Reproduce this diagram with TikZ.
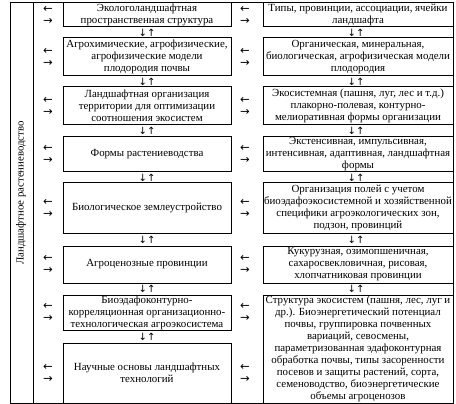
\documentclass[tikz,border=0pt]{standalone}
\usepackage{fontspec}
\setmainfont{Liberation Serif}
\newfontfamily\arrowfont{DejaVu Sans}
\begin{document}
\begin{tikzpicture}[x=1pt,y=-1pt,
  txt/.style={font=\fontsize{10.9}{12}\selectfont},
  boxl/.style={draw,line width=1pt,minimum width=168pt,inner sep=0pt,align=center,txt},
  boxr/.style={draw,line width=1pt,minimum width=190pt,inner sep=0pt,align=center,txt},
  arr/.style={inner sep=0pt,font=\arrowfont\fontsize{11.5}{11.5}\selectfont},
  ud/.style={inner sep=0pt,font=\arrowfont\fontsize{10}{10}\selectfont}]
\useasboundingbox (0,0) rectangle (456,404);
% frame
\draw[line width=1pt] (10,3) rectangle (453,403);
\draw[line width=1pt] (33,3) -- (33,403);
\node[rotate=90,font=\fontsize{10.8}{12}\selectfont] (lbl) at (21,193) {Ландшафтное растениеводство};
% left boxes
\node[boxl,minimum height=24pt] (l1) at (147,15) {Экологоландшафтная\\пространственная структура};
\node[boxl,minimum height=38pt] (l2) at (147,57) {Агрохимические, агрофизические,\\агрофизические модели\\плодородия почвы};
\node[boxl,minimum height=38pt] (l3) at (147,106) {Ландшафтная организация\\территории для оптимизации\\соотношения экосистем};
\node[boxl,minimum height=35pt] (l4) at (147,154.5) {Формы растениеводства};
\node[boxl,minimum height=50pt] (l5) at (147,208) {Биологическое землеустройство};
\node[boxl,minimum height=37pt] (l6) at (147,264.5) {Агроценозные провинции};
\node[boxl,minimum height=35pt] (l7) at (147,312.5) {Биоэдафоконтурно-\\корреляционная организационно-\\технологическая агроэкосистема};
\node[boxl,minimum height=60pt] (l8) at (147,373) {Научные основы ландшафтных\\технологий};
% right boxes
\node[boxr,minimum height=24pt] (r1) at (358,15) {Типы, провинции, ассоциации, ячейки\\ландшафта};
\node[boxr,minimum height=38pt] (r2) at (358,57) {Органическая, минеральная,\\биологическая, агрофизическая модели\\плодородия};
\node[boxr,minimum height=38pt] (r3) at (358,106) {Экосистемная (пашня, луг, лес и т.д.)\\плакорно-полевая, контурно-\\мелиоративная формы организации};
\node[boxr,minimum height=35pt] (r4) at (358,154.5) {Экстенсивная, импульсивная,\\интенсивная, адаптивная, ландшафтная\\формы};
\node[boxr,minimum height=50pt] (r5) at (358,208) {Организация полей с учетом\\биоэдафоэкосистемной и хозяйственной\\специфики агроэкологических зон,\\подзон, провинций};
\node[boxr,minimum height=37pt] (r6) at (358,264.5) {Кукурузная, озимопшеничная,\\сахаросвекловичная, рисовая,\\хлопчатниковая провинции};
\node[boxr,minimum height=108pt] (r7) at (358,349) {Структура экосистем (пашня, лес, луг и\\др.). Биоэнергетический потенциал\\почвы, группировка почвенных\\вариаций, севосмены,\\параметризованная эдафоконтурная\\обработка почвы, типы засоренности\\посевов и защиты растений, сорта,\\семеноводство, биоэнергетические\\объемы агроценозов};
% side arrows left column
\foreach \n/\y in {a1/15,a2/57,a3/106,a4/154.5,a5/208,a6/264.5,a7/312.5,a8/373}{
  \node[arr] (L\n) at (48,\y-6) {←};
  \node[arr] (M\n) at (48,\y+6) {→};
}
% side arrows right column
\foreach \n/\y in {b1/15,b2/57,b3/106,b4/154.5,b5/208,b6/264.5,b7/312.5,b8/373}{
  \node[arr] (R\n) at (245,\y-6) {←};
  \node[arr] (S\n) at (245,\y+6) {→};
}
% up/down arrows between boxes
\foreach \n/\y in {c1/32.5,c2/81.5,c3/131,c4/177.5,c5/239.5,c6/289,c7/336.5}{
  \node[ud] (U\n) at (147,\y) {↓↑};
}
\foreach \n/\y in {d1/32.5,d2/81.5,d3/131,d4/177.5,d5/239.5,d6/289}{
  \node[ud] (V\n) at (356,\y) {↓↑};
}
\end{tikzpicture}
\end{document}
